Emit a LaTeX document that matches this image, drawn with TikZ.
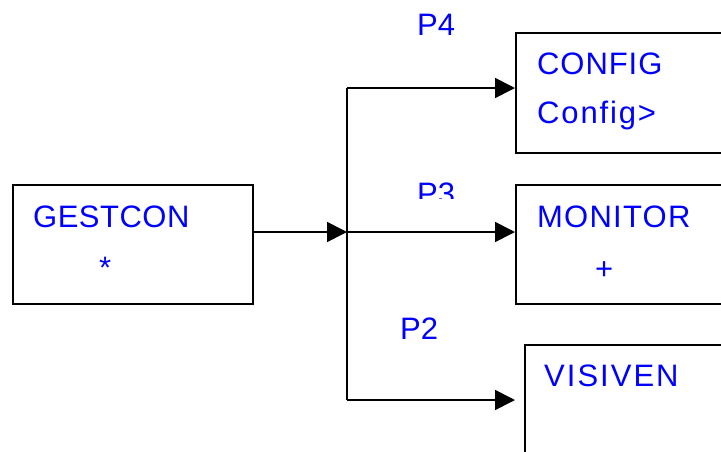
\documentclass[tikz,border=0pt]{standalone}
\usepackage{fontspec}
\setmainfont{Liberation Sans}
\usetikzlibrary{arrows.meta,positioning}
\definecolor{procblue}{RGB}{0,0,255}

\tikzset{
  block/.style={draw, rectangle, line width=1.8pt, inner sep=0pt, anchor=north west},
  proc/.style={text=procblue, font=\fontsize{31}{37}\selectfont\addfontfeature{LetterSpace=#1},
    inner sep=0pt, anchor=base west},
  proc/.default=0,
  wire/.style={line width=1.6pt},
  link/.style={wire, -{Triangle[length=20pt,width=20pt]}},
}

\begin{document}
\begin{tikzpicture}[x=1pt,y=-1pt]
  \useasboundingbox (0,0) rectangle (721,451);
  \clip (0,0) rectangle (721,451);
  % the four program blocks
  \node[block, minimum width=240pt, minimum height=119pt] (gestcon) at (12,184) {};
  \node[block, minimum width=240pt, minimum height=120pt] (config) at (515,32) {};
  \node[block, minimum width=240pt, minimum height=119pt] (monitor) at (515,184) {};
  \node[block, minimum width=240pt, minimum height=120pt] (visiven) at (524,344) {};
  % names inside the blocks
  \node[proc=1.6] (gestconname) at (33,227) {GESTCON};
  \node[proc] (gestconmark) at (99,278) {*};
  \node[proc=3] (configname) at (537,74) {CONFIG};
  \node[proc=6] (configtext) at (537,123) {Config>};
  \node[proc=4] (monitorname) at (537,227) {MONITOR};
  \node[proc] (monitormark) at (595,279) {+};
  \node[proc=6.5] (visivenname) at (544,386) {VISIVEN};
  % ports
  \node[proc] (pfour) at (417,35) {P4};
  \begin{scope}
    \clip (380,170) rectangle (480,198);
    \node[proc] (pthree) at (417,204) {P3};
  \end{scope}
  \node[proc] (ptwo) at (400,339) {P2};
  % connections
  \coordinate (fork) at (347,232);
  \coordinate (top) at (347,88);
  \coordinate (bottom) at (347,400);
  \draw[link] (fork -| gestcon.east) -- (fork);
  \draw[wire] (top) -- (bottom);
  \draw[link] (top) -- (top -| config.west);
  \draw[link] (fork) -- (fork -| monitor.west);
  \draw[link, shorten >=9pt] (bottom) -- (bottom -| visiven.west);
\end{tikzpicture}
\end{document}
